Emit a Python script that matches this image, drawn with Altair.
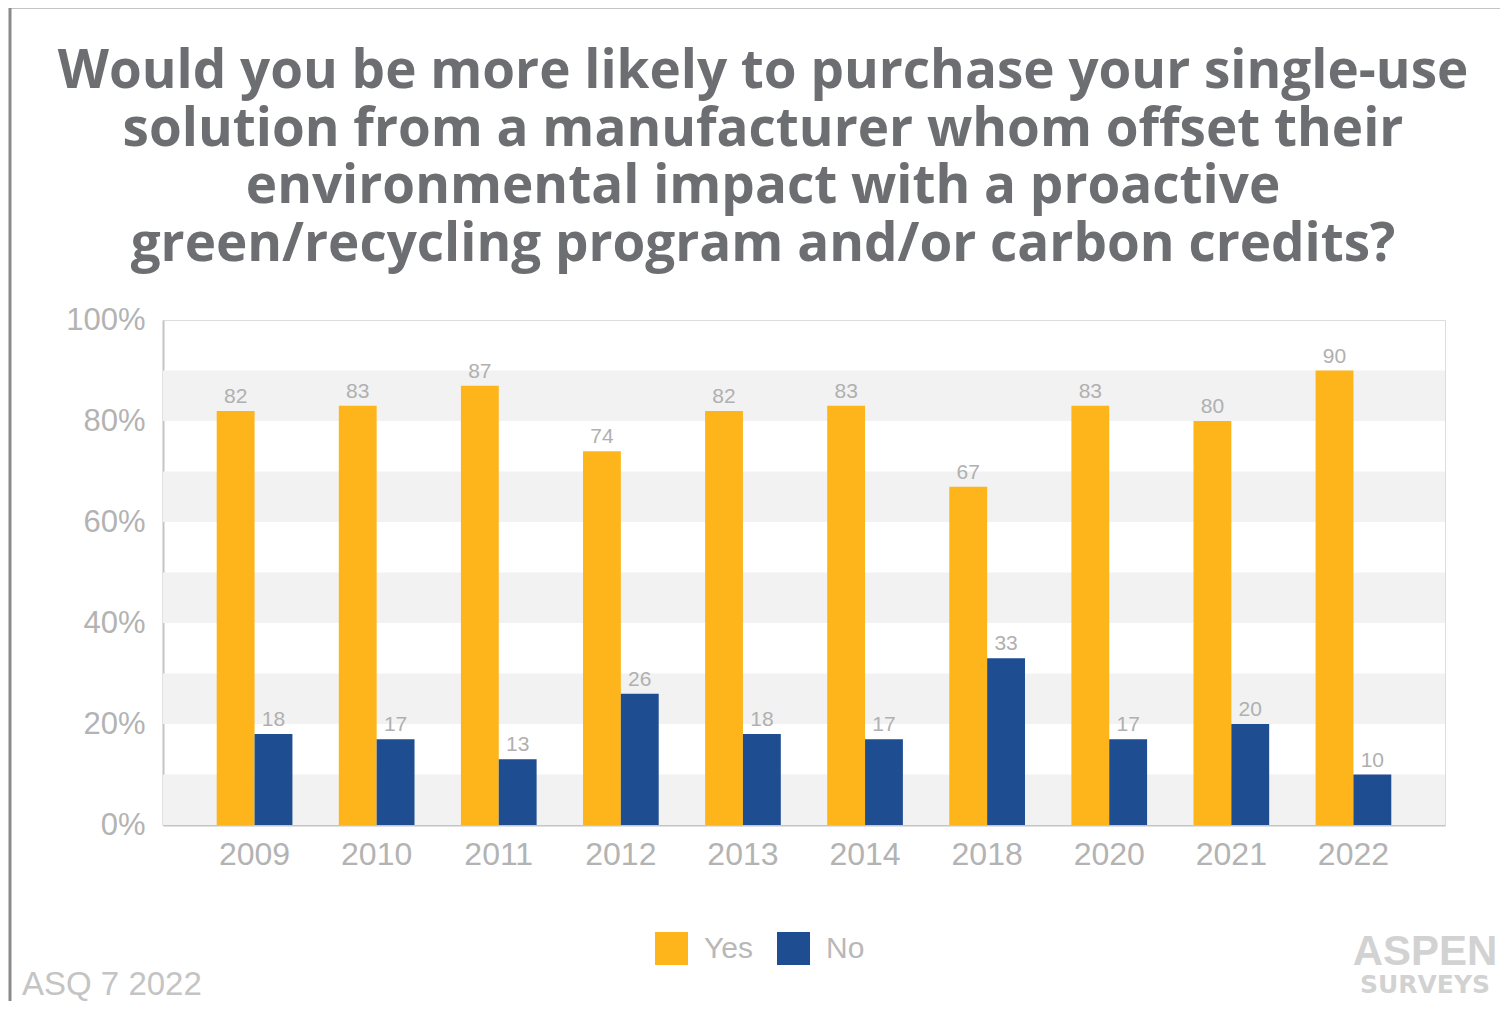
import altair as alt
import pandas as pd

years = ["2009", "2010", "2011", "2012", "2013", "2014", "2018", "2020", "2021", "2022"]
yes_vals = [82, 83, 87, 74, 82, 83, 67, 83, 80, 90]
no_vals = [18, 17, 13, 26, 18, 17, 33, 17, 20, 10]
answers = ["Yes", "No"]
answer_colors = ["#FDB51B", "#1E4D92"]
y_ticks = [0, 20, 40, 60, 80, 100]
band_starts = [0, 20, 40, 60, 80]
band_ends = [10, 30, 50, 70, 90]
title_lines = [
    "Would you be more likely to purchase your single-use",
    "solution from a manufacturer whom offset their",
    "environmental impact with a proactive",
    "green/recycling program and/or carbon credits?",
]
source_note = ["ASQ 7 2022"]
logo_top = ["ASPEN"]
logo_bottom = ["SURVEYS"]

W, H = 1282, 505

rows = []
for i, yr in enumerate(years):
    rows.append({"year": yr, "answer": "Yes", "value": yes_vals[i]})
    rows.append({"year": yr, "answer": "No", "value": no_vals[i]})
df = pd.DataFrame(rows)
bands = pd.DataFrame({"start": band_starts, "end": band_ends})

x_enc = alt.X("year:N", sort=years,
              scale=alt.Scale(paddingInner=0.38, paddingOuter=0.44),
              axis=alt.Axis(title=None, labelAngle=0, labelFontSize=32,
                            labelColor="#b3b3b3", labelPadding=14, ticks=False,
                            domainColor="#c4c4c4", domainWidth=2,
                            labelFont="Liberation Sans"))
y_scale = alt.Scale(domain=[0, 100], nice=False)
xo = alt.XOffset("answer:N", sort=answers, scale=alt.Scale(paddingInner=0, paddingOuter=0))

band_layer = alt.Chart(bands).mark_rect(color="#f2f2f3").encode(
    x=alt.value(0), x2=alt.value(W),
    y=alt.Y("start:Q", scale=y_scale,
            axis=alt.Axis(title=None, values=y_ticks, labelExpr="datum.value + '%'",
                          labelFontSize=31, labelColor="#b3b3b3", labelPadding=18,
                          ticks=False, grid=False, domainColor="#c4c4c4", domainWidth=2,
                          labelFont="Liberation Sans")),
    y2="end:Q",
)

bars = alt.Chart(df).mark_bar().encode(
    x=x_enc,
    xOffset=xo,
    y=alt.Y("value:Q", scale=y_scale),
    color=alt.Color("answer:N", sort=answers,
                    scale=alt.Scale(domain=answers, range=answer_colors),
                    legend=alt.Legend(orient="none", legendX=492, legendY=612,
                                      direction="horizontal", columns=2, title=None,
                                      symbolType="square", symbolSize=1089,
                                      symbolStrokeWidth=0, labelFontSize=30,
                                      labelColor="#b8b8b8", labelFont="Liberation Sans",
                                      columnPadding=24, labelOffset=16, padding=0)),
)

labels = alt.Chart(df).mark_text(baseline="bottom", dy=-4, fontSize=21,
                                 color="#b0b0b0", font="Liberation Sans").encode(
    x=x_enc,
    xOffset=xo,
    y=alt.Y("value:Q", scale=y_scale),
    text="value:Q",
)

title_df = pd.DataFrame({"k": [0]})
title_layer = alt.Chart(title_df).mark_text(
    align="center", baseline="top", fontSize=53, fontWeight="bold",
    font="Open Sans", color="#6d6e71", lineHeight=57.5).encode(
    x=alt.value(600), y=alt.value(-274), text=alt.value(title_lines))

note = alt.Chart(pd.DataFrame({"t": source_note})).mark_text(
    align="left", baseline="alphabetic", fontSize=33, color="#c4c4c4",
    font="Liberation Sans").encode(x=alt.value(-141), y=alt.value(675), text="t:N")

logo1 = alt.Chart(pd.DataFrame({"t": logo_top})).mark_text(
    align="center", baseline="alphabetic", fontSize=42, fontWeight="bold",
    color="#d2d2d2", font="Liberation Sans").encode(
    x=alt.value(1262), y=alt.value(645), text="t:N")

logo2 = alt.Chart(pd.DataFrame({"t": logo_bottom})).mark_text(
    align="center", baseline="alphabetic", fontSize=25, fontWeight="bold",
    color="#d2d2d2", font="DejaVu Sans").encode(
    x=alt.value(1262), y=alt.value(673), text="t:N")

frame = pd.DataFrame({"k": [0]})
left_line = alt.Chart(frame).mark_rule(color="#8a8a8a", strokeWidth=3).encode(
    x=alt.value(-153), y=alt.value(-313), y2=alt.value(700))
top_line = alt.Chart(frame).mark_rule(color="#8a8a8a", strokeWidth=3).encode(
    x=alt.value(-154), x2=alt.value(1345), y=alt.value(-313))

chart = alt.layer(band_layer, bars, labels, title_layer, note, logo1, logo2,
                  left_line, top_line).properties(
    width=W, height=H,
    autosize=alt.AutoSizeParams(type="none"),
    padding={"left": 155, "top": 312, "right": 55, "bottom": 176},
).configure_view(fill="#fafafa", stroke="transparent", strokeWidth=0).configure(background="white")

chart.save("out.html", embed_options={"renderer": "svg", "actions": False})
